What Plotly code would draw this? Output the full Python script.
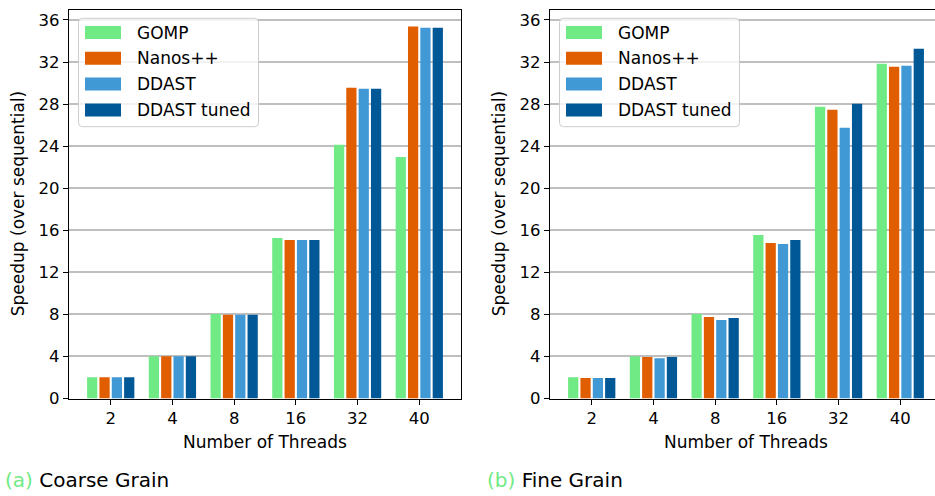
import plotly.graph_objects as go

# ---- data -------------------------------------------------------------
threads = ["2", "4", "8", "16", "32", "40"]
runtimes = ["GOMP", "Nanos++", "DDAST", "DDAST tuned"]
colors = ["#70ea84", "#e05e00", "#4098d4", "#005896"]

coarse_gomp = [2.03, 4.03, 8.03, 15.27, 24.13, 22.98]
coarse_nanos = [2.03, 4.03, 7.97, 15.08, 29.56, 35.37]
coarse_ddast = [2.03, 4.03, 7.97, 15.08, 29.46, 35.27]
coarse_tuned = [2.03, 4.03, 7.97, 15.08, 29.46, 35.27]

fine_gomp = [2.03, 4.03, 8.03, 15.56, 27.75, 31.84]
fine_nanos = [1.94, 3.94, 7.75, 14.79, 27.46, 31.56]
fine_ddast = [1.94, 3.84, 7.46, 14.70, 25.75, 31.65]
fine_tuned = [1.94, 3.94, 7.65, 15.08, 28.03, 33.27]

y_ticks = [0, 4, 8, 12, 16, 20, 24, 28, 32, 36]

coarse = [coarse_gomp, coarse_nanos, coarse_ddast, coarse_tuned]
fine = [fine_gomp, fine_nanos, fine_ddast, fine_tuned]

# ---- geometry helpers (pixel -> paper) -------------------------------
W, H = 935, 496
FONT = "DejaVu Sans"


def px(x):
    return x / W


def py(y):
    return 1 - y / H


TOP, BOTTOM = 10, 398.5
L1, R1 = 69, 461
L2 = 550
X_LO = -0.676
UNIT = (R1 - L1) / (2 * 0.676 + 5)          # pixels per category
X_HI2 = X_LO + (W - L2) / UNIT              # right panel runs off the page

fig = go.Figure()
x_pos = list(range(len(threads)))

for xa, ya, panel in (("x", "y", coarse), ("x2", "y2", fine)):
    for name, color, vals in zip(runtimes, colors, panel):
        fig.add_trace(go.Bar(
            x=x_pos, y=vals, name=name, xaxis=xa, yaxis=ya,
            marker=dict(color=color, line=dict(width=0)),
            showlegend=False,
        ))

axis_common = dict(
    ticks="outside", ticklen=5, tickwidth=1.3, tickcolor="black",
    showline=True, linecolor="black", linewidth=1.3,
    zeroline=False, automargin=False, fixedrange=True,
    tickfont=dict(family=FONT, size=16.5, color="black"),
)
x_common = dict(axis_common, tickvals=x_pos, ticktext=threads, showgrid=False)
y_common = dict(axis_common, tickvals=y_ticks, range=[0, 36.95],
                showgrid=True, gridcolor="#bfbfbf", gridwidth=1.5,
                domain=[py(BOTTOM), py(TOP)])

fig.update_layout(
    width=W, height=H,
    margin=dict(l=0, r=0, t=0, b=0),
    plot_bgcolor="white", paper_bgcolor="white",
    barmode="group", bargap=0.2, bargroupgap=0.17,
    showlegend=False,
    xaxis=dict(x_common, domain=[px(L1), px(R1)], range=[X_LO, -X_LO + 5],
               anchor="y", mirror=True),
    yaxis=dict(y_common, anchor="x", mirror=True),
    xaxis2=dict(x_common, domain=[px(L2), 1.0], range=[X_LO, X_HI2],
                anchor="y2", mirror=True),
    yaxis2=dict(y_common, anchor="x2", mirror=False),
)

annotations = []
shapes = []


def text(x, y, s, size=17, anchor="center", angle=0, yanchor="middle"):
    annotations.append(dict(
        x=px(x), y=py(y), xref="paper", yref="paper", text=s,
        showarrow=False, xanchor=anchor, yanchor=yanchor, textangle=angle,
        font=dict(family=FONT, size=size, color="black"),
    ))


def rounded_box(x0, y0, x1, y1, r):
    p = [
        f"M {px(x0 + r)},{py(y0)}",
        f"L {px(x1 - r)},{py(y0)}",
        f"Q {px(x1)},{py(y0)} {px(x1)},{py(y0 + r)}",
        f"L {px(x1)},{py(y1 - r)}",
        f"Q {px(x1)},{py(y1)} {px(x1 - r)},{py(y1)}",
        f"L {px(x0 + r)},{py(y1)}",
        f"Q {px(x0)},{py(y1)} {px(x0)},{py(y1 - r)}",
        f"L {px(x0)},{py(y0 + r)}",
        f"Q {px(x0)},{py(y0)} {px(x0 + r)},{py(y0)}",
        "Z",
    ]
    return " ".join(p)


for left in (L1, L2):
    mid = (left + (left + (R1 - L1))) / 2
    # axis titles
    text(mid, 442, "Number of Threads")
    text(left - 51, (TOP + BOTTOM) / 2, "Speedup (over sequential)", angle=-90)
    # legend frame
    shapes.append(dict(
        type="path", xref="paper", yref="paper",
        path=rounded_box(left + 9.5, 18.3, left + 189.5, 126.7, 4),
        fillcolor="rgba(255,255,255,0.8)",
        line=dict(color="#cccccc", width=1),
    ))
    for i, (name, color) in enumerate(zip(runtimes, colors)):
        cy = 32.5 + i * 25.8
        shapes.append(dict(
            type="rect", xref="paper", yref="paper",
            x0=px(left + 16), x1=px(left + 52), y0=py(cy + 6.5), y1=py(cy - 6.5),
            fillcolor=color, line=dict(width=0),
        ))
        text(left + 66, cy, name, anchor="left")

# sub-figure captions
annotations.append(dict(
    x=px(3), y=py(480), xref="paper", yref="paper", showarrow=False,
    xanchor="left", yanchor="middle",
    text="<span style='color:#70ea84'>(a)</span> Coarse Grain",
    font=dict(family=FONT, size=20, color="black"),
))
annotations.append(dict(
    x=px(485), y=py(480), xref="paper", yref="paper", showarrow=False,
    xanchor="left", yanchor="middle",
    text="<span style='color:#70ea84'>(b)</span> Fine Grain",
    font=dict(family=FONT, size=20, color="black"),
))

fig.update_layout(annotations=annotations, shapes=shapes)
fig.write_html("out.html", config={"displayModeBar": False})
